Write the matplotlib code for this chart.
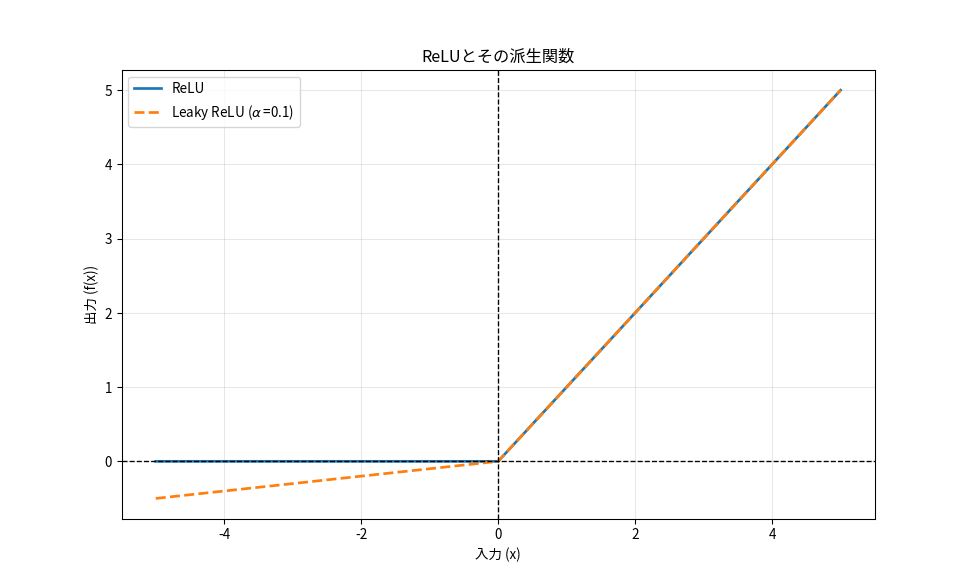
import numpy as np
import matplotlib.pyplot as plt

plt.rcParams['font.family'] = ['Noto Sans CJK JP', 'DejaVu Sans']
plt.rcParams['axes.unicode_minus'] = False

# --- Data (breakpoints) ---
x_pts = [-5, 0, 5]
relu_vals = [0, 0, 5]
leaky_vals = [-0.5, 0, 5]

fig, ax = plt.subplots(figsize=(10, 6), dpi=97.2)

ax.plot(x_pts, relu_vals, label="ReLU", color="#1f77b4", linewidth=2)
ax.plot(x_pts, leaky_vals, label=r"Leaky ReLU ($\alpha\,$=0.1)", color="#ff7f0e",
        linewidth=2, linestyle="--")

# zero reference lines
ax.axhline(0, color="black", linestyle="--", linewidth=1)
ax.axvline(0, color="black", linestyle="--", linewidth=1)

ax.grid(True, alpha=0.3)
ax.set_title("ReLUとその派生関数")
ax.set_xlabel("入力 (x)")
ax.set_ylabel("出力 (f(x))")
ax.legend(loc="upper left")

fig.savefig("out.png")
